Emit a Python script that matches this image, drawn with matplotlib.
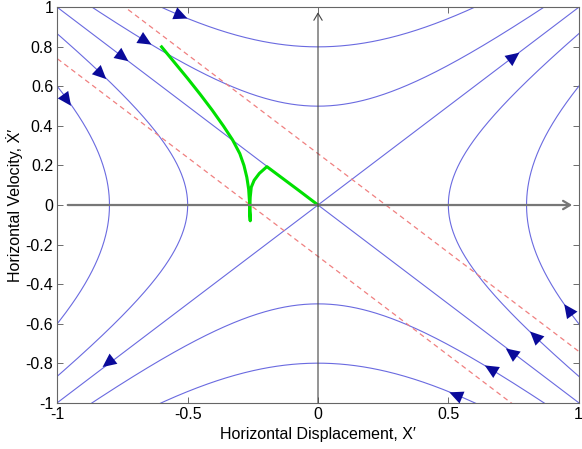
import numpy as np
import matplotlib
matplotlib.use('Agg')
import matplotlib.pyplot as plt

plt.rcParams['font.family'] = ['Liberation Sans', 'DejaVu Sans']

# Data
# saddle phase portrait: x^2 - y^2 = c
levels_x = [0.25, 0.64]        # branches opening left/right
levels_y = [0.25, 0.64]        # branches opening up/down
switch_offsets = [0.26, -0.26]  # red dashed lines y = -x + c

# green trajectory
green_x = [-0.600, -0.550, -0.500, -0.452, -0.406, -0.363, -0.328, -0.300, -0.284,
           -0.273, -0.266, -0.263, -0.261, -0.260, -0.262, -0.260, -0.256, -0.245,
           -0.225, -0.196, -0.072, 0.0]
green_y = [0.80, 0.72, 0.64, 0.56, 0.48, 0.40, 0.33, 0.26, 0.20,
           0.14, 0.08, 0.02, -0.04, -0.08, -0.03, 0.04, 0.09, 0.125,
           0.16, 0.194, 0.072, 0.0]

# flow-direction arrows (positions)
arrow_x = [-0.52, -0.656, -0.743, -0.826, -0.958, 0.757, -0.811,
           0.523, 0.657, 0.736, 0.827, 0.955]
arrow_y = [0.954, 0.825, 0.743, 0.654, 0.521, 0.755, -0.804,
           -0.958, -0.825, -0.741, -0.657, -0.521]

x_ticks = [-1, -0.5, 0, 0.5, 1]
x_labels = ['-1', '-0.5', '0', '0.5', '1']
y_ticks = [-1, -0.8, -0.6, -0.4, -0.2, 0, 0.2, 0.4, 0.6, 0.8, 1]
y_labels = ['-1', '-0.8', '-0.6', '-0.4', '-0.2', '0', '0.2', '0.4', '0.6', '0.8', '1']

blue = '#6a6ae0'
fig = plt.figure(figsize=(5.82, 4.49), dpi=100)
ax = fig.add_axes([0.0985, 0.1031, 0.8958, 0.8806])

t = np.linspace(-1, 1, 400)
for c in levels_x:
    xx = np.sqrt(c + t**2)
    ax.plot(xx, t, color=blue, lw=0.8)
    ax.plot(-xx, t, color=blue, lw=0.8)
for c in levels_y:
    yy = np.sqrt(c + t**2)
    ax.plot(t, yy, color=blue, lw=0.8)
    ax.plot(t, -yy, color=blue, lw=0.8)
ax.plot(t, t, color=blue, lw=0.8)
ax.plot(t, -t, color=blue, lw=0.8)

for c in switch_offsets:
    ax.plot(t, -t + c, color='#f08080', lw=0.9, ls=(0, (4, 3)))

# axes through origin with arrow heads
ax.annotate('', xy=(0.975, 0), xytext=(-0.96, 0),
            arrowprops=dict(arrowstyle='->,head_length=0.5,head_width=0.3',
                            color='#777777', lw=1.6, shrinkA=0, shrinkB=0))
ax.annotate('', xy=(0, 0.975), xytext=(0, -1),
            arrowprops=dict(arrowstyle='->,head_length=0.5,head_width=0.3',
                            color='#444444', lw=0.8, shrinkA=0, shrinkB=0))

ax.plot(green_x, green_y, color='#00e000', lw=2.2, solid_joinstyle='round')

for px, py in zip(arrow_x, arrow_y):
    dx, dy = py, px   # xdot = y, ydot = x
    n = np.hypot(dx, dy)
    dx, dy = dx / n * 0.022, dy / n * 0.022
    ax.annotate('', xy=(px + dx, py + dy), xytext=(px - dx, py - dy),
                arrowprops=dict(arrowstyle='-|>,head_length=0.9,head_width=0.42',
                                color='#0a0a9a', lw=0, shrinkA=0, shrinkB=0,
                                mutation_scale=11))

ax.set_xlim(-1, 1)
ax.set_ylim(-1, 1)
ax.set_xticks(x_ticks)
ax.set_xticklabels(x_labels)
ax.set_yticks(y_ticks)
ax.set_yticklabels(y_labels)
ax.tick_params(direction='in', top=True, right=True, labelsize=11.5,
               length=4, width=0.6, color='#555555', pad=3)
for s in ax.spines.values():
    s.set_color('#666666')
    s.set_linewidth(0.8)

ax.set_xlabel('Horizontal Displacement, X\u2032', fontsize=11.5, labelpad=4)
ax.set_ylabel('Horizontal Velocity, \u1E8A\u2032', fontsize=11.5, labelpad=2)

fig.savefig('out.png', dpi=100)
